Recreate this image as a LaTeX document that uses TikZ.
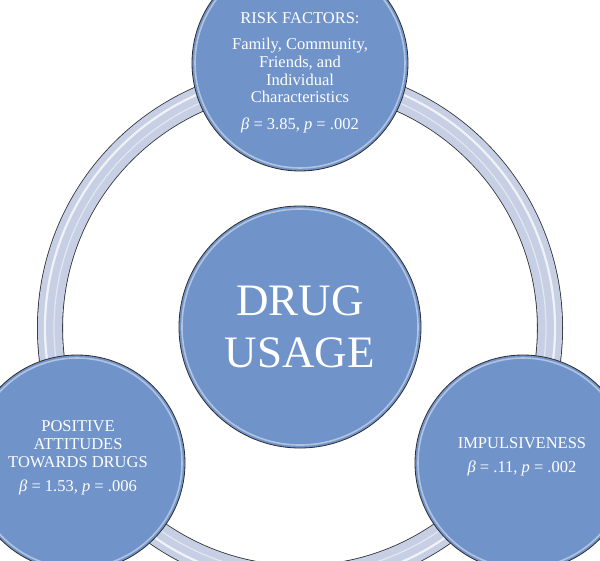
\documentclass[tikz,border=0pt]{standalone}
\usepackage{fontspec}
\setmainfont{Liberation Serif}
\definecolor{bubble}{RGB}{112,147,201}
\definecolor{ringfill}{RGB}{198,207,228}
\definecolor{edgeline}{RGB}{45,45,50}

\begin{document}
\begin{tikzpicture}[x=1pt, y=-1pt,
    factor/.style={draw=edgeline, line width=0.8pt, circle, fill=bubble, minimum size=216pt, inner sep=0pt},
    factortext/.style={text=white, align=center, inner sep=0pt, font=\fontsize{16.5}{17.7}\selectfont},
    hub/.style={factor, minimum size=242pt, text=white, align=center, font=\fontsize{45}{52}\selectfont},
    rimglow/.style={white, opacity=0.45, line width=1.6pt}]
    \useasboundingbox (0,0) rectangle (600,560);
    % ring behind the circles
    \draw[edgeline, line width=26pt] (300,328) circle (250pt);
    \draw[ringfill, line width=24.4pt] (300,328) circle (250pt);
    \draw[white, opacity=0.75, line width=2.2pt] (300,328) circle (255pt);
    \draw[white, opacity=0.5, line width=1.2pt] (300,328) circle (246pt);

    \node (risk) [factor] at (300,63) {};
    \node (attitude) [factor] at (77,463) {};
    \node (impulse) [factor] at (523,463) {};
    \node (drug) [hub] at (300,327) {DRUG\\USAGE};

    \foreach \n/\r in {risk/105, attitude/105, impulse/105, drug/118}
        \draw[rimglow] (\n.center) circle (\r pt);

    \node (risk-txt) [factortext] at (300,73) {RISK FACTORS:\\[8pt]Family, Community,\\Friends, and\\Individual\\Characteristics\\[9pt]\textit{β} = 3.85, \textit{p} = .002};
    \node (attitude-txt) [factortext] at (78,458) {POSITIVE\\ATTITUDES\\TOWARDS DRUGS\\[7pt]\textit{β} = 1.53, \textit{p} = .006};
    \node (impulse-txt) [factortext] at (522,457) {IMPULSIVENESS\\[6pt]\textit{β} = .11, \textit{p} = .002};
\end{tikzpicture}
\end{document}
